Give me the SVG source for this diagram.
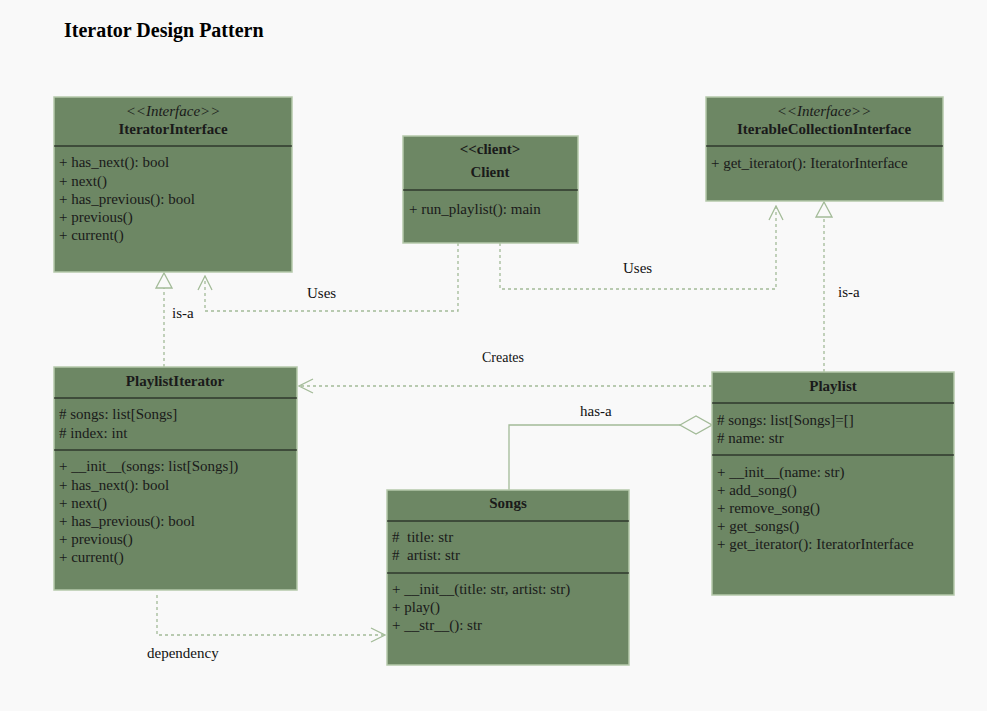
<svg xmlns="http://www.w3.org/2000/svg" width="987" height="711" viewBox="0 0 987 711">
<style>
.bg{fill:#f9f9f9}
.box{fill:#6d8764;stroke:#b5c9aa;stroke-width:1.5}
.div{stroke:#111;stroke-width:1}
text{font-family:"Liberation Serif","Times New Roman",serif;font-size:15px;fill:#1a1a1a}
.b{font-weight:bold}
.i{font-style:italic}
.c{text-anchor:middle}
.pre{white-space:pre}
.title{font-size:20px;font-weight:bold;fill:#000}
.lbl{font-size:15px;fill:#111}
.dash{fill:none;stroke:#a3bb98;stroke-width:1.3;stroke-dasharray:3 3}
.solid{fill:none;stroke:#a3bb98;stroke-width:1.3}
</style>
<defs>
<marker id="open" viewBox="0 0 16 16" refX="15" refY="8" markerWidth="16" markerHeight="16" markerUnits="userSpaceOnUse" orient="auto">
<path d="M1,1 L15,8 L1,15" fill="none" stroke="#a3bb98" stroke-width="1.3"/>
</marker>
<marker id="tri" viewBox="0 0 18 18" refX="17" refY="9" markerWidth="18" markerHeight="18" markerUnits="userSpaceOnUse" orient="auto">
<path d="M2,1 L17,9 L2,17 Z" fill="#f9f9f9" stroke="#a3bb98" stroke-width="1.3"/>
</marker>
<marker id="dia" viewBox="0 0 34 20" refX="33" refY="10" markerWidth="34" markerHeight="20" markerUnits="userSpaceOnUse" orient="auto">
<path d="M1,10 L17,1 L33,10 L17,19 Z" fill="#f9f9f9" stroke="#a3bb98" stroke-width="1.3"/>
</marker>
</defs>
<rect class="bg" x="0" y="0" width="987" height="711"/>
<text class="title" x="64" y="37">Iterator Design Pattern</text>

<g id="connectors">
<path class="dash" d="M164,367 V273" marker-end="url(#tri)"/>
<text class="lbl" x="172" y="318">is-a</text>
<path class="dash" d="M458,243 V311 H205 V276" marker-end="url(#open)"/>
<text class="lbl" x="307" y="298">Uses</text>
<path class="dash" d="M500,243 V289 H776 V206" marker-end="url(#open)"/>
<text class="lbl" x="623" y="273">Uses</text>
<path class="dash" d="M824,372 V202" marker-end="url(#tri)"/>
<text class="lbl" x="838" y="297">is-a</text>
<path class="dash" d="M712,386 H299" marker-end="url(#open)"/>
<text class="lbl" x="482" y="362" style="font-size:14px">Creates</text>
<path class="solid" d="M509,490 V425 H712" marker-end="url(#dia)"/>
<text class="lbl" x="580" y="416">has-a</text>
<path class="dash" d="M157,595 V635 H385" marker-end="url(#open)"/>
<text class="lbl" x="147" y="658">dependency</text>
</g>

<g id="IteratorInterface">
<rect class="box" x="54" y="97" width="238" height="175"/>
<text class="i c" x="173" y="116">&lt;&lt;Interface&gt;&gt;</text>
<text class="b c" x="173" y="134">IteratorInterface</text>
<line class="div" x1="54" y1="146" x2="292" y2="146"/>
<text x="59" y="167">+ has_next(): bool</text>
<text x="59" y="186">+ next()</text>
<text x="59" y="204">+ has_previous(): bool</text>
<text x="59" y="222">+ previous()</text>
<text x="59" y="240">+ current()</text>
</g>

<g id="Client">
<rect class="box" x="403" y="136" width="175" height="107"/>
<text class="b c" x="490" y="154">&lt;&lt;client&gt;</text>
<text class="b c" x="490" y="177">Client</text>
<line class="div" x1="403" y1="190" x2="578" y2="190"/>
<text x="409" y="214">+ run_playlist(): main</text>
</g>

<g id="IterableCollectionInterface">
<rect class="box" x="706" y="97" width="237" height="104"/>
<text class="i c" x="824" y="116">&lt;&lt;Interface&gt;&gt;</text>
<text class="b c" x="824" y="134">IterableCollectionInterface</text>
<line class="div" x1="706" y1="146" x2="943" y2="146"/>
<text x="711" y="168">+ get_iterator(): IteratorInterface</text>
</g>

<g id="PlaylistIterator">
<rect class="box" x="54" y="367" width="243" height="223"/>
<text class="b c" x="175" y="386">PlaylistIterator</text>
<line class="div" x1="54" y1="398" x2="297" y2="398"/>
<text x="59" y="419"># songs: list[Songs]</text>
<text x="59" y="438"># index: int</text>
<line class="div" x1="54" y1="450" x2="297" y2="450"/>
<text x="59" y="471">+ __init__(songs: list[Songs])</text>
<text x="59" y="490">+ has_next(): bool</text>
<text x="59" y="508">+ next()</text>
<text x="59" y="526">+ has_previous(): bool</text>
<text x="59" y="544">+ previous()</text>
<text x="59" y="562">+ current()</text>
</g>

<g id="Songs">
<rect class="box" x="387" y="490" width="242" height="175"/>
<text class="b c" x="508" y="508">Songs</text>
<line class="div" x1="387" y1="521" x2="629" y2="521"/>
<text class="pre" x="392" y="542">#  title: str</text>
<text class="pre" x="392" y="560">#  artist: str</text>
<line class="div" x1="387" y1="573" x2="629" y2="573"/>
<text x="392" y="594">+ __init__(title: str, artist: str)</text>
<text x="392" y="612">+ play()</text>
<text x="392" y="630">+ __str__(): str</text>
</g>

<g id="Playlist">
<rect class="box" x="712" y="372" width="242" height="223"/>
<text class="b c" x="833" y="391">Playlist</text>
<line class="div" x1="712" y1="403" x2="954" y2="403"/>
<text x="717" y="425"># songs: list[Songs]=[]</text>
<text x="717" y="443"># name: str</text>
<line class="div" x1="712" y1="455" x2="954" y2="455"/>
<text x="717" y="477">+ __init__(name: str)</text>
<text x="717" y="495">+ add_song()</text>
<text x="717" y="513">+ remove_song()</text>
<text x="717" y="531">+ get_songs()</text>
<text x="717" y="549">+ get_iterator(): IteratorInterface</text>
</g>
</svg>
